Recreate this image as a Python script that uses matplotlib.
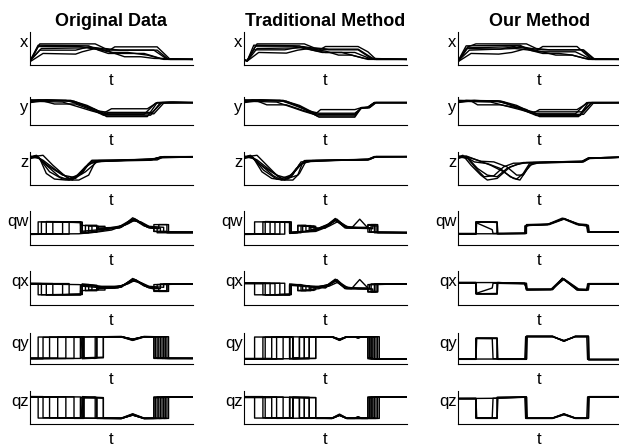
import matplotlib
matplotlib.use('Agg')
import matplotlib.pyplot as plt

plt.rcParams['font.family'] = ['Liberation Sans', 'DejaVu Sans']

# column titles and row labels
titles = ['Original Data', 'Traditional Method', 'Our Method']
row_labels = ['x', 'y', 'z', 'qw', 'qx', 'qy', 'qz']

# every curve is a list of (t, value) points,
# t runs 0..100, value is 0..1 of the panel height

# ---- x ----
x_orig = [
    [(0, .12), (6, .64), (40, .64), (46, .5), (55, .45), (78, .45), (85, .17), (100, .17)],
    [(0, .10), (5, .56), (30, .56), (42, .5), (48, .42), (52, .55), (78, .55), (86, .17), (100, .17)],
    [(0, .14), (7, .5), (35, .52), (44, .45), (50, .38), (60, .38), (72, .3), (82, .17), (100, .17)],
    [(0, .12), (6, .45), (28, .45), (36, .55), (44, .5), (50, .45), (76, .45), (84, .18), (100, .17)],
    [(0, .10), (8, .35), (28, .33), (32, .4), (40, .5), (48, .42), (58, .25), (68, .25), (76, .2), (100, .17)],
    [(0, .12), (5, .6), (36, .58), (42, .45), (48, .35), (70, .35), (80, .2), (100, .17)],
]
x_trad = [
    [(0, .15), (2, .13), (8, .64), (37, .64), (43, .52), (52, .48), (70, .48), (80, .17), (100, .17)],
    [(0, .15), (2, .13), (7, .57), (30, .57), (40, .5), (46, .45), (50, .56), (70, .56), (76, .4), (81, .17), (100, .17)],
    [(0, .15), (2, .12), (8, .5), (35, .52), (42, .45), (50, .38), (60, .38), (66, .3), (76, .17), (100, .17)],
    [(0, .15), (2, .14), (6, .46), (25, .46), (36, .56), (44, .5), (52, .46), (70, .46), (78, .2), (100, .17)],
    [(0, .15), (2, .12), (9, .38), (26, .36), (33, .45), (40, .5), (50, .42), (58, .3), (66, .3), (74, .2), (100, .17)],
    [(0, .15), (2, .13), (6, .6), (34, .58), (42, .45), (48, .38), (68, .38), (78, .18), (100, .17)],
]
x_ours = [
    [(0, .1), (6, .55), (11, .64), (42, .64), (48, .5), (56, .46), (77, .46), (84, .17), (100, .17)],
    [(0, .1), (6, .52), (30, .55), (40, .52), (48, .44), (52, .56), (73, .56), (82, .17), (100, .17)],
    [(0, .12), (7, .45), (35, .5), (44, .45), (52, .35), (62, .35), (70, .3), (80, .17), (100, .17)],
    [(0, .1), (5, .5), (26, .48), (36, .58), (45, .5), (52, .46), (76, .46), (83, .18), (100, .17)],
    [(0, .1), (8, .35), (25, .33), (33, .38), (42, .5), (50, .42), (60, .3), (70, .3), (78, .2), (100, .17)],
    [(0, .12), (5, .58), (38, .6), (44, .45), (50, .4), (72, .4), (81, .19), (100, .17)],
]

# ---- y ----
y_orig = [
    [(0, .85), (5, .9), (25, .88), (35, .7), (45, .42), (50, .58), (72, .58), (78, .8), (100, .8)],
    [(0, .88), (22, .88), (32, .72), (45, .35), (74, .35), (80, .8), (100, .8)],
    [(0, .8), (8, .86), (15, .75), (28, .75), (42, .45), (48, .4), (76, .4), (82, .78), (100, .8)],
    [(0, .9), (25, .85), (40, .55), (47, .3), (72, .3), (78, .8), (88, .82), (100, .8)],
    [(0, .82), (10, .9), (27, .85), (42, .5), (48, .45), (75, .45), (81, .8), (100, .8)],
    [(0, .85), (20, .82), (38, .5), (46, .38), (70, .38), (77, .78), (86, .82), (100, .8)],
]
y_trad = [
    [(0, .85), (5, .9), (24, .88), (34, .7), (44, .4), (47, .55), (68, .55), (72, .62), (76, .62), (80, .8), (100, .8)],
    [(0, .88), (22, .88), (32, .72), (45, .32), (68, .32), (72, .62), (76, .64), (80, .8), (100, .8)],
    [(0, .8), (8, .86), (14, .72), (26, .72), (40, .45), (46, .38), (68, .38), (72, .6), (77, .62), (81, .8), (100, .8)],
    [(0, .9), (24, .85), (38, .55), (46, .28), (68, .28), (72, .62), (76, .62), (80, .8), (100, .8)],
    [(0, .82), (10, .9), (26, .85), (40, .5), (46, .42), (68, .42), (72, .6), (76, .64), (80, .8), (100, .8)],
    [(0, .85), (20, .82), (36, .5), (44, .36), (68, .36), (72, .62), (77, .62), (81, .8), (100, .8)],
]
y_ours = [
    [(0, .82), (5, .88), (26, .86), (36, .7), (46, .42), (50, .55), (73, .55), (80, .8), (100, .8)],
    [(0, .85), (24, .86), (34, .68), (48, .34), (75, .34), (82, .8), (100, .8)],
    [(0, .8), (8, .86), (12, .72), (26, .72), (38, .6), (44, .45), (50, .38), (77, .38), (83, .78), (100, .8)],
    [(0, .88), (25, .85), (42, .55), (50, .3), (74, .3), (80, .8), (100, .8)],
    [(0, .82), (10, .88), (28, .82), (40, .55), (46, .47), (76, .47), (82, .8), (100, .8)],
    [(0, .85), (20, .82), (38, .55), (47, .4), (72, .4), (79, .8), (100, .8)],
]

# ---- z ----
z_orig = [
    [(0, .85), (4, .9), (10, .6), (18, .25), (24, .15), (30, .3), (38, .72), (60, .75), (76, .78), (80, .85), (100, .85)],
    [(0, .8), (5, .85), (12, .4), (20, .18), (28, .2), (34, .55), (40, .72), (75, .77), (80, .85), (100, .86)],
    [(0, .88), (6, .8), (10, .35), (15, .18), (22, .15), (30, .15), (36, .3), (40, .7), (76, .8), (82, .85), (100, .85)],
    [(0, .82), (3, .88), (8, .75), (16, .45), (24, .2), (32, .35), (36, .65), (44, .72), (74, .75), (78, .82), (100, .85)],
    [(0, .85), (8, .9), (14, .6), (22, .25), (26, .15), (33, .5), (38, .75), (77, .78), (81, .84), (100, .85)],
    [(0, .86), (5, .82), (12, .55), (20, .3), (28, .22), (34, .4), (42, .74), (78, .76), (82, .86), (100, .86)],
]
z_trad = [
    [(0, .85), (4, .9), (10, .62), (18, .28), (23, .15), (29, .25), (35, .7), (76, .78), (80, .86), (100, .86)],
    [(0, .8), (5, .86), (12, .45), (20, .18), (27, .18), (32, .5), (38, .74), (76, .76), (80, .86), (100, .86)],
    [(0, .88), (6, .8), (11, .4), (17, .2), (24, .15), (30, .15), (34, .35), (38, .72), (76, .78), (81, .86), (100, .86)],
    [(0, .82), (3, .88), (8, .76), (16, .45), (23, .2), (30, .32), (34, .62), (42, .74), (76, .76), (80, .84), (100, .86)],
    [(0, .85), (8, .9), (14, .6), (21, .25), (25, .15), (32, .45), (37, .74), (77, .78), (81, .86), (100, .86)],
    [(0, .86), (5, .82), (12, .55), (20, .3), (27, .2), (33, .3), (36, .68), (44, .74), (77, .77), (81, .86), (100, .86)],
]
z_ours = [
    [(0, .85), (3, .9), (8, .6), (14, .3), (18, .15), (24, .2), (32, .55), (40, .68), (76, .72), (80, .82), (100, .84)],
    [(0, .8), (5, .88), (12, .75), (20, .6), (28, .4), (34, .2), (38, .15), (42, .45), (46, .68), (76, .7), (80, .82), (100, .84)],
    [(0, .88), (6, .82), (12, .5), (18, .3), (24, .25), (30, .5), (36, .62), (42, .68), (77, .72), (81, .82), (100, .84)],
    [(0, .82), (4, .88), (10, .7), (18, .65), (26, .5), (32, .25), (36, .18), (40, .35), (44, .66), (77, .7), (81, .82), (100, .84)],
    [(0, .86), (6, .8), (12, .45), (16, .25), (22, .28), (28, .55), (34, .66), (76, .7), (80, .8), (100, .84)],
    [(0, .84), (5, .86), (14, .72), (22, .7), (30, .55), (36, .3), (40, .3), (44, .6), (50, .68), (77, .71), (81, .82), (100, .84)],
]

# ---- qw ----
qw_orig = [
    [(0, .32), (5, .32), (5, .68), (31, .68), (31, .36), (34, .38), (34, .58), (41, .58), (41, .47), (52, .5), (58, .6), (63, .8), (68, .66), (73, .5), (78, .5), (78, .36), (100, .36)],
    [(0, .33), (7, .33), (7, .68), (32, .66), (32, .35), (41, .38), (41, .5), (54, .52), (62, .74), (66, .7), (72, .52), (76, .52), (76, .4), (84, .4), (84, .36), (100, .36)],
    [(0, .32), (10, .32), (10, .69), (31, .68), (31, .58), (38, .56), (38, .4), (44, .42), (56, .55), (64, .78), (70, .6), (75, .5), (80, .5), (80, .38), (100, .38)],
    [(0, .31), (14, .32), (14, .68), (32, .67), (32, .37), (41, .4), (41, .55), (46, .55), (46, .48), (58, .58), (64, .74), (70, .56), (76, .5), (76, .6), (85, .6), (85, .37), (100, .37)],
    [(0, .33), (20, .33), (20, .68), (31, .66), (31, .4), (45, .46), (55, .5), (62, .72), (68, .68), (73, .55), (82, .52), (82, .38), (100, .38)],
    [(0, .32), (24, .32), (24, .67), (32, .67), (32, .36), (36, .36), (36, .56), (42, .55), (42, .46), (56, .52), (63, .76), (69, .62), (74, .5), (79, .48), (79, .6), (84, .6), (84, .37), (100, .37)],
    [(0, .32), (30, .33), (41, .38), (50, .44), (60, .62), (65, .75), (71, .55), (76, .5), (76, .4), (100, .38)],
]
qw_trad = [
    [(0, .33), (6.5, .33), (6.5, .68), (28, .68), (28, .34), (33, .36), (33, .58), (38, .58), (38, .42), (44, .44), (50, .55), (56, .78), (62, .55), (66, .5), (71, .76), (76, .5), (76, .58), (80, .58), (80, .36), (100, .36)],
    [(0, .32), (11.6, .32), (11.6, .68), (29, .67), (29, .36), (36, .38), (36, .55), (44, .55), (44, .46), (52, .6), (57, .74), (62, .52), (76, .5), (76, .38), (100, .36)],
    [(0, .33), (13, .33), (13, .69), (28, .68), (28, .35), (40, .4), (40, .52), (46, .5), (52, .62), (56, .76), (62, .5), (78, .5), (78, .6), (82, .6), (82, .36), (100, .36)],
    [(0, .31), (16, .32), (16, .68), (29, .67), (29, .36), (33, .38), (33, .56), (43, .56), (43, .44), (50, .52), (56, .72), (61, .56), (70, .5), (77, .5), (77, .38), (100, .36)],
    [(0, .33), (19, .33), (19, .68), (28, .66), (28, .38), (44, .42), (52, .6), (57, .76), (63, .5), (79, .48), (79, .56), (82, .56), (82, .37), (100, .37)],
    [(0, .32), (22, .32), (22, .67), (29, .67), (29, .36), (35, .36), (35, .57), (41, .57), (41, .45), (50, .5), (56, .75), (62, .52), (76, .52), (76, .6), (81, .6), (81, .37), (100, .37)],
    [(0, .32), (25, .32), (25, .68), (28, .68), (28, .36), (44, .4), (52, .55), (58, .7), (64, .52), (78, .5), (78, .38), (100, .37)],
]
qw_ours = [
    [(0, .33), (11, .33), (11, .68), (24, .68), (24, .34), (41.5, .34), (41.5, .55), (43, .58), (55, .6), (65, .78), (74, .6), (79, .58), (80, .38), (100, .38)],
    [(0, .32), (11, .32), (11, .66), (21, .45), (21.5, .34), (41, .35), (41, .56), (43, .58), (56, .6), (65, .76), (73, .6), (79, .56), (79.5, .38), (100, .38)],
    [(0, .33), (24, .33), (41.5, .34), (42, .56), (44, .58), (55, .61), (64, .79), (74, .62), (79, .6), (80, .38), (100, .38)],
    [(0, .32), (11, .32), (11.5, .67), (24, .67), (24.5, .33), (41, .34), (42, .6), (56, .62), (65, .77), (74, .6), (80, .56), (80.5, .39), (100, .39)],
    [(0, .34), (11, .34), (11, .68), (18, .68), (24, .66), (24, .33), (42, .34), (42, .57), (55, .6), (65, .78), (74, .6), (80, .58), (80, .38), (100, .38)],
]

# ---- qx ----
qx_orig = [
    [(0, .62), (5, .62), (5, .3), (31, .3), (31, .58), (34, .56), (34, .42), (41, .42), (41, .5), (52, .5), (58, .6), (63, .78), (68, .64), (73, .5), (78, .5), (78, .6), (100, .62)],
    [(0, .63), (7, .63), (7, .3), (32, .32), (32, .62), (41, .58), (41, .48), (54, .5), (62, .72), (66, .68), (72, .52), (76, .52), (76, .42), (84, .42), (84, .62), (100, .62)],
    [(0, .62), (10, .62), (10, .29), (31, .3), (31, .42), (38, .44), (38, .58), (44, .55), (56, .55), (64, .76), (70, .6), (75, .48), (80, .48), (80, .62), (100, .62)],
    [(0, .64), (14, .63), (14, .3), (32, .31), (32, .6), (41, .56), (41, .44), (46, .44), (46, .5), (58, .58), (64, .74), (70, .56), (76, .52), (76, .4), (85, .4), (85, .62), (100, .62)],
    [(0, .62), (20, .62), (20, .3), (31, .32), (31, .56), (45, .5), (55, .52), (62, .72), (68, .66), (73, .55), (82, .52), (82, .62), (100, .62)],
    [(0, .63), (24, .63), (24, .31), (32, .31), (32, .6), (36, .6), (36, .44), (42, .45), (42, .52), (56, .52), (63, .76), (69, .62), (74, .5), (79, .5), (79, .4), (84, .4), (84, .62), (100, .62)],
    [(0, .62), (30, .6), (41, .55), (50, .5), (60, .62), (65, .74), (71, .55), (76, .5), (76, .6), (100, .62)],
]
qx_trad = [
    [(0, .64), (6.5, .64), (6.5, .3), (28, .3), (28, .6), (33, .58), (33, .42), (38, .42), (38, .56), (44, .52), (50, .55), (56, .76), (62, .5), (66, .48), (71, .75), (76, .5), (76, .4), (80, .4), (80, .62), (100, .62)],
    [(0, .63), (11.6, .63), (11.6, .3), (29, .31), (29, .6), (36, .58), (36, .44), (44, .45), (44, .52), (52, .6), (57, .72), (62, .5), (76, .48), (76, .6), (100, .62)],
    [(0, .64), (13, .64), (13, .29), (28, .3), (28, .62), (40, .56), (40, .46), (46, .48), (52, .6), (56, .74), (62, .48), (78, .48), (78, .38), (82, .38), (82, .62), (100, .62)],
    [(0, .65), (16, .64), (16, .3), (29, .31), (29, .6), (33, .58), (33, .43), (43, .43), (43, .54), (50, .52), (56, .7), (61, .54), (70, .48), (77, .48), (77, .6), (100, .62)],
    [(0, .63), (19, .63), (19, .3), (28, .32), (28, .58), (44, .52), (52, .6), (57, .75), (63, .48), (79, .47), (79, .4), (82, .4), (82, .62), (100, .62)],
    [(0, .64), (22, .64), (22, .31), (29, .31), (29, .6), (35, .6), (35, .42), (41, .42), (41, .53), (50, .5), (56, .73), (62, .5), (76, .5), (76, .38), (81, .38), (81, .62), (100, .62)],
    [(0, .64), (25, .64), (25, .3), (28, .3), (28, .6), (44, .55), (52, .55), (58, .68), (64, .5), (78, .48), (78, .62), (100, .62)],
]
qx_ours = [
    [(0, .66), (11, .66), (11, .33), (24, .33), (24, .65), (41, .64), (42, .46), (58, .46), (64, .78), (73, .46), (79, .45), (80, .62), (100, .62)],
    [(0, .65), (11, .65), (11, .34), (21, .5), (21.5, .64), (41, .62), (42.5, .45), (57, .45), (65, .76), (73, .44), (79, .43), (79.5, .62), (100, .62)],
    [(0, .66), (24, .66), (41, .64), (42, .44), (58, .45), (64, .79), (74, .45), (79, .44), (80, .63), (100, .63)],
    [(0, .64), (11, .64), (11.5, .32), (24, .32), (24.5, .66), (41, .63), (42, .47), (58, .47), (65, .77), (74, .47), (80, .46), (80.5, .61), (100, .61)],
    [(0, .66), (11, .66), (11, .33), (24, .34), (24, .66), (42, .64), (42.5, .45), (57, .46), (64, .78), (73, .45), (80, .44), (80, .62), (100, .62)],
]

# ---- qy ----
qy_orig = [
    [(0, .18), (5, .18), (5, .87), (31, .87), (31, .2), (33, .2), (33, .87), (56, .88), (63, .77), (70, .88), (76, .88), (76, .18), (100, .18)],
    [(0, .17), (8, .17), (8, .86), (32, .86), (32, .2), (40, .18), (40, .87), (56, .88), (63, .8), (70, .88), (78, .88), (78, .18), (100, .18)],
    [(0, .18), (12, .18), (12, .87), (31, .86), (33, .2), (41, .2), (41, .88), (56, .88), (63, .78), (70, .88), (80, .88), (80, .2), (82, .2), (82, .88), (83, .88), (83, .18), (100, .18)],
    [(0, .19), (17, .19), (17, .87), (32, .87), (32, .17), (45, .2), (45, .88), (56, .88), (63, .8), (70, .88), (84, .88), (84, .18), (100, .18)],
    [(0, .18), (22, .18), (22, .87), (31, .87), (45, .88), (56, .89), (63, .79), (70, .89), (77, .88), (77, .2), (79, .2), (79, .88), (81, .88), (81, .18), (100, .18)],
    [(0, .18), (27, .18), (27, .88), (33, .88), (33, .2), (41, .2), (41, .88), (56, .88), (63, .8), (70, .88), (85, .88), (85, .18), (100, .18)],
    [(0, .17), (31, .18), (31, .86), (33, .86), (33, .2), (45, .22), (45, .86), (56, .87), (63, .76), (70, .87), (76, .87), (76, .2), (100, .18)],
]
qy_trad = [
    [(0, .16), (6.5, .16), (6.5, .87), (28, .87), (28, .18), (34, .18), (34, .87), (54, .88), (58.6, .77), (63, .88), (68, .88), (70, .83), (72, .88), (76, .88), (76, .17), (100, .16)],
    [(0, .17), (11.6, .17), (11.6, .86), (30, .86), (30, .18), (37, .18), (37, .87), (54, .88), (58.6, .8), (63, .88), (78, .88), (78, .16), (100, .16)],
    [(0, .16), (13, .16), (13, .87), (28, .87), (28, .16), (40, .17), (40, .87), (54, .87), (58.6, .78), (63, .87), (68, .87), (70, .84), (72, .87), (77, .87), (77, .2), (79, .2), (79, .86), (80, .86), (80, .16), (100, .16)],
    [(0, .18), (17, .18), (17, .87), (30, .87), (30, .17), (44, .18), (44, .88), (54, .88), (58.6, .78), (63, .88), (82, .88), (82, .16), (100, .16)],
    [(0, .16), (20, .16), (20, .88), (44, .87), (54, .88), (58.6, .79), (63, .88), (76, .88), (76, .2), (78, .2), (78, .88), (81, .88), (81, .16), (100, .16)],
    [(0, .16), (24, .16), (24, .87), (30, .87), (30, .2), (34, .2), (34, .86), (37, .86), (37, .18), (44, .18), (44, .88), (54, .88), (58.6, .8), (63, .88), (83, .88), (83, .16), (100, .16)],
    [(0, .17), (28, .17), (28, .86), (30, .86), (30, .17), (40, .2), (40, .86), (54, .87), (58.6, .76), (63, .87), (77, .87), (77, .17), (100, .16)],
]
qy_ours = [
    [(0, .16), (11, .16), (11, .83), (24, .83), (24, .16), (42, .16), (42, .89), (58, .89), (65, .74), (72, .89), (80, .89), (80, .14), (100, .14)],
    [(0, .17), (11, .17), (11, .82), (21, .82), (21.5, .17), (41, .17), (41.5, .88), (58, .88), (65, .76), (72, .88), (79, .88), (79.5, .15), (100, .15)],
    [(0, .16), (24, .16), (41.5, .17), (42, .9), (58, .9), (65, .73), (72, .9), (80, .9), (80.5, .14), (100, .14)],
    [(0, .15), (11, .15), (11.5, .84), (24, .84), (24.5, .15), (42, .15), (42, .88), (58, .88), (65, .75), (72, .88), (80, .88), (80, .15), (100, .15)],
    [(0, .16), (11, .16), (11, .83), (24, .82), (24, .17), (42, .16), (42.5, .89), (58, .89), (65, .74), (72, .89), (80, .89), (80, .14), (100, .14)],
]

# ---- qz ----
qz_orig = [
    [(0, .82), (5, .82), (5, .18), (31, .18), (31, .8), (33, .8), (33, .18), (56, .17), (63, .3), (70, .17), (76, .17), (76, .82), (100, .82)],
    [(0, .83), (8, .83), (8, .19), (32, .19), (32, .8), (40, .82), (40, .18), (56, .17), (63, .27), (70, .17), (78, .17), (78, .82), (100, .82)],
    [(0, .82), (12, .82), (12, .18), (31, .19), (33, .8), (41, .8), (41, .17), (56, .17), (63, .29), (70, .17), (80, .17), (80, .8), (82, .8), (82, .17), (83, .17), (83, .82), (100, .82)],
    [(0, .81), (17, .81), (17, .18), (32, .18), (32, .83), (45, .8), (45, .17), (56, .17), (63, .27), (70, .17), (84, .17), (84, .82), (100, .82)],
    [(0, .82), (22, .82), (22, .18), (31, .18), (45, .17), (56, .16), (63, .28), (70, .16), (77, .17), (77, .8), (79, .8), (79, .17), (81, .17), (81, .82), (100, .82)],
    [(0, .82), (27, .82), (27, .17), (33, .17), (33, .8), (41, .8), (41, .17), (56, .17), (63, .27), (70, .17), (85, .17), (85, .82), (100, .82)],
    [(0, .83), (31, .82), (31, .19), (33, .19), (33, .8), (45, .78), (45, .19), (56, .18), (63, .31), (70, .18), (76, .18), (76, .8), (100, .82)],
]
qz_trad = [
    [(0, .82), (6.5, .82), (6.5, .18), (28, .18), (28, .8), (34, .8), (34, .18), (54, .17), (58.6, .28), (63, .17), (68, .17), (70, .22), (72, .17), (76, .17), (76, .82), (100, .82)],
    [(0, .83), (11.6, .83), (11.6, .19), (30, .19), (30, .8), (37, .8), (37, .18), (54, .17), (58.6, .26), (63, .17), (78, .17), (78, .82), (100, .82)],
    [(0, .82), (13, .82), (13, .18), (28, .18), (28, .82), (40, .81), (40, .18), (54, .18), (58.6, .28), (63, .18), (68, .18), (70, .22), (72, .18), (77, .18), (77, .8), (79, .8), (79, .19), (80, .19), (80, .82), (100, .82)],
    [(0, .8), (17, .8), (17, .18), (30, .18), (30, .81), (44, .8), (44, .17), (54, .17), (58.6, .27), (63, .17), (82, .17), (82, .82), (100, .82)],
    [(0, .82), (20, .82), (20, .17), (44, .18), (54, .17), (58.6, .27), (63, .17), (76, .17), (76, .8), (78, .8), (78, .17), (81, .17), (81, .82), (100, .82)],
    [(0, .82), (24, .82), (24, .18), (30, .18), (30, .8), (34, .8), (34, .19), (37, .19), (37, .8), (44, .8), (44, .17), (54, .17), (58.6, .26), (63, .17), (83, .17), (83, .82), (100, .82)],
    [(0, .81), (28, .81), (28, .19), (30, .19), (30, .81), (40, .78), (40, .19), (54, .18), (58.6, .3), (63, .18), (77, .18), (77, .81), (100, .82)],
]
qz_ours = [
    [(0, .77), (11, .77), (11, .18), (24, .18), (24, .8), (42, .82), (42, .18), (58, .18), (65, .3), (72, .18), (80, .18), (80, .82), (100, .82)],
    [(0, .76), (11, .76), (11, .19), (21, .19), (21.5, .78), (41, .81), (41.5, .17), (58, .17), (65, .28), (72, .17), (79, .17), (79.5, .82), (100, .82)],
    [(0, .77), (24, .78), (41.5, .82), (42, .18), (58, .18), (65, .31), (72, .18), (80, .18), (80.5, .83), (100, .83)],
    [(0, .78), (11, .78), (11.5, .17), (24, .17), (24.5, .8), (42, .81), (42, .17), (58, .17), (65, .29), (72, .17), (80, .17), (80, .82), (100, .82)],
    [(0, .77), (11, .77), (11, .18), (24, .19), (24, .81), (42, .82), (42.5, .18), (58, .18), (65, .3), (72, .18), (80, .18), (80, .81), (100, .81)],
]

panels = [
    [x_orig, x_trad, x_ours],
    [y_orig, y_trad, y_ours],
    [z_orig, z_trad, z_ours],
    [qw_orig, qw_trad, qw_ours],
    [qx_orig, qx_trad, qx_ours],
    [qy_orig, qy_trad, qy_ours],
    [qz_orig, qz_trad, qz_ours],
]

# layout in pixels of the 619x446 picture
W, H = 619, 446
col_left = [30, 244, 458]
col_width = 163
row_top = [32, 97, 152, 211, 271, 333, 391]
row_bottom = [65, 125, 185, 245, 305, 364, 424]

fig = plt.figure(figsize=(W / 100, H / 100), dpi=100)

for r, label in enumerate(row_labels):
    for c in range(3):
        l = col_left[c]
        ax = fig.add_axes([l / W, 1 - row_bottom[r] / H, col_width / W,
                           (row_bottom[r] - row_top[r]) / H])
        for curve in panels[r][c]:
            ts = [p[0] for p in curve]
            vs = [p[1] for p in curve]
            ax.plot(ts, vs, color='black', lw=1.0)
        ax.set_xlim(0, 100)
        ax.set_ylim(0, 1)
        ax.set_xticks([])
        ax.set_yticks([])
        for s in ['top', 'right']:
            ax.spines[s].set_visible(False)
        for s in ['left', 'bottom']:
            ax.spines[s].set_linewidth(0.8)
        ax.set_xlabel('t', fontsize=12, labelpad=6)
        ax.annotate(label, xy=(0, 1), xycoords='axes fraction',
                    xytext=(-1, -10.5), textcoords='offset points',
                    ha='right', va='baseline', fontsize=12)

for c, title in enumerate(titles):
    cx = (col_left[c] + col_width / 2) / W
    fig.text(cx, 1 - 25.5 / H, title, ha='center', va='baseline',
             fontsize=13, fontweight='bold')

fig.savefig('out.png', dpi=100)
